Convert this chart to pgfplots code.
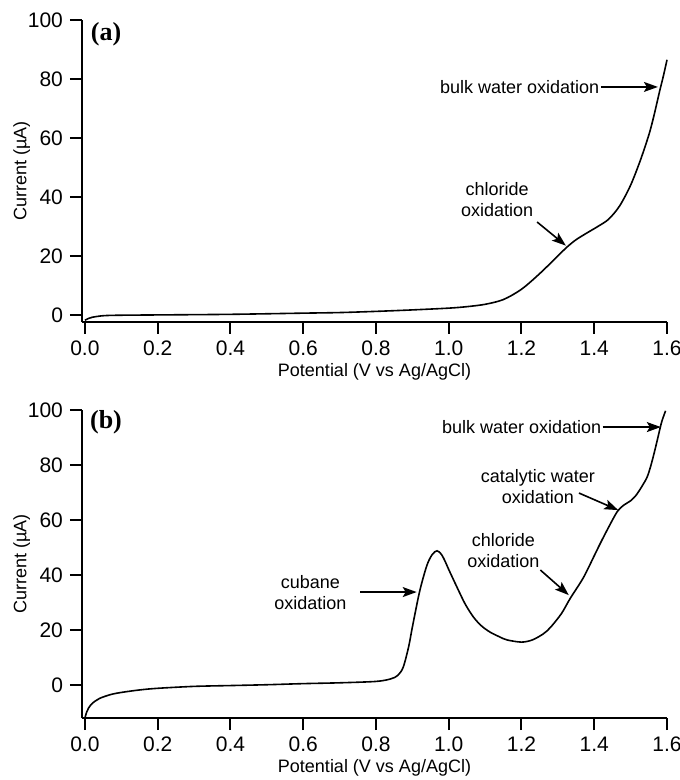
\documentclass[border=0pt]{standalone}
\usepackage{fontspec}
\setmainfont{Liberation Sans}
\newfontfamily\timesfont{Liberation Serif}
\usepackage{pgfplots}
\pgfplotsset{compat=1.18}
\usetikzlibrary{arrows.meta}

\pgfplotstableread{
x y
0 -1.8
0.01 -1.2
0.02 -0.8
0.04 -0.4
0.06 -0.2
0.1 -0.1
0.2 0
0.4 0.2
0.6 0.6
0.7 0.8
0.8 1.2
0.9 1.7
1.0 2.3
1.05 2.8
1.1 3.6
1.15 5.2
1.2 8.7
1.25 14
1.3 20
1.325 23
1.35 25.5
1.38 27.8
1.41 30
1.44 32.5
1.47 37
1.5 44
1.527 52.5
1.55 61
1.563 67
1.58 76
1.59 81
1.6 86.5
}\dataA

\pgfplotstableread{
x y
0 -12
0.005 -9.8
0.01 -8.4
0.02 -6.7
0.04 -4.9
0.07 -3.5
0.1 -2.7
0.15 -1.8
0.2 -1.2
0.3 -0.5
0.4 -0.2
0.5 0.1
0.6 0.5
0.7 0.8
0.8 1.3
0.84 2.2
0.86 3.5
0.875 6.5
0.89 14
0.9 21
0.92 34
0.94 43.5
0.955 47.5
0.968 48.8
0.98 47.5
0.99 45
1.0 42
1.023 35.5
1.045 29.5
1.068 24.7
1.09 21.5
1.114 19.2
1.14 17.5
1.16 16.4
1.2 15.6
1.23 16.4
1.26 18.6
1.28 21
1.31 26
1.334 31.5
1.37 39
1.4 47
1.417 51.6
1.44 57.5
1.463 63
1.48 65.3
1.5 67
1.515 69
1.53 72
1.545 75.5
1.555 79.5
1.565 84.5
1.575 90
1.585 95.5
1.596 99.7
}\dataB

\tikzset{
  ann/.style={font=\fontsize{9}{10.5}\selectfont, align=center},
  arr/.style={-{Stealth[length=7pt,width=5pt,inset=1.5pt]}, line width=0.8pt},
}

\pgfplotsset{
  every non boxed x axis/.style={},
  every non boxed y axis/.style={},
  myax/.style={
    scale only axis,
    width=292.5pt,
    xmin=-0.008, xmax=1.6,
    ymax=100,
    axis x line=bottom, axis y line=left,
    axis line style={line width=1pt,-},
    tick align=outside,
    major tick length=6pt,
    every tick/.style={line width=1pt,black},
    xtick={0,0.2,0.4,0.6,0.8,1.0,1.2,1.4,1.6},
    ytick={0,20,40,60,80,100},
    xticklabel style={/pgf/number format/.cd,fixed,fixed zerofill,precision=1},
    /pgf/number format/assume math mode=true,
    tick label style={font=\fontsize{10.5}{12}\selectfont},
    label style={font=\fontsize{9}{11}\selectfont},
    xlabel={Potential (V vs Ag/AgCl)},
    ylabel={Current (µA)},
    xlabel style={yshift=3pt},
    ylabel style={yshift=-8pt},
    clip=false,
  },
}

\begin{document}
\begin{tikzpicture}
\path[use as bounding box] (-41pt,10pt) rectangle (298.5pt,-380pt);

\begin{axis}[myax, height=151pt, ymin=-2.4, at={(0,0)}, anchor=north west]
\addplot[black, line width=0.8pt, smooth] table[x=x,y=y] {\dataA};
\node[font=\timesfont\bfseries\fontsize{13}{15}\selectfont] at (axis cs:0.058,95) {(a)};
\node[ann, anchor=east, inner sep=0pt] at (axis cs:1.415,77.3) {bulk water oxidation};
\draw[arr] (axis cs:1.418,77.3) -- (axis cs:1.575,77.3);
\node[ann, inner sep=0pt] at (axis cs:1.133,39) {chloride\\oxidation};
\draw[arr] (axis cs:1.243,31.5) -- (axis cs:1.322,23.5);
\end{axis}

\begin{axis}[myax, height=154pt, ymin=-12, at={(0,-195pt)}, anchor=north west]
\addplot[black, line width=0.8pt, smooth] table[x=x,y=y] {\dataB};
\node[font=\timesfont\bfseries\fontsize{13}{15}\selectfont] at (axis cs:0.058,95.5) {(b)};
\node[ann, anchor=east, inner sep=0pt] at (axis cs:1.42,93.8) {bulk water oxidation};
\draw[arr] (axis cs:1.423,93.8) -- (axis cs:1.583,93.8);
\node[ann, inner sep=0pt] at (axis cs:1.245,72) {catalytic water\\oxidation};
\draw[arr] (axis cs:1.358,69.8) -- (axis cs:1.466,63.6);
\node[ann, inner sep=0pt] at (axis cs:1.15,49) {chloride\\oxidation};
\draw[arr] (axis cs:1.252,41.8) -- (axis cs:1.33,32.7);
\node[ann, inner sep=0pt] at (axis cs:0.62,33.5) {cubane\\oxidation};
\draw[arr] (axis cs:0.757,33.8) -- (axis cs:0.912,33.8);
\end{axis}
\end{tikzpicture}
\end{document}
